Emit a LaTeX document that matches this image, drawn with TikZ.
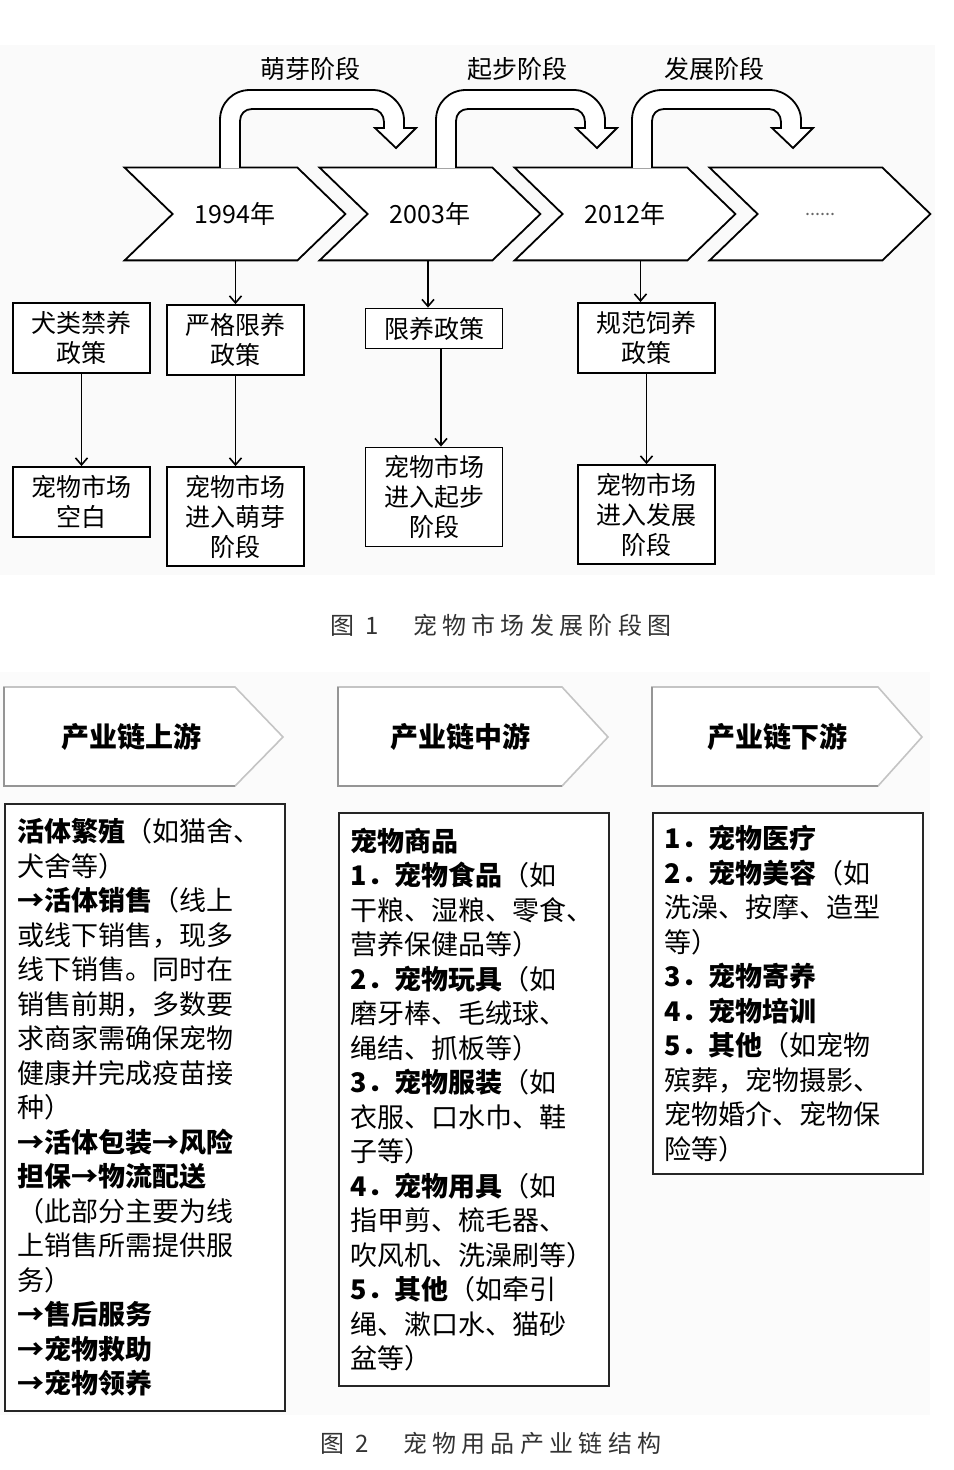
\documentclass[tikz,border=0pt]{standalone}
\usepackage{fontspec}
\newfontfamily\cjk{Noto Sans CJK SC}
\newfontfamily\capcjk[LetterSpace=22]{Noto Sans CJK SC}
\definecolor{pentline}{HTML}{C4C4C4}
\definecolor{pentdark}{HTML}{959595}
\definecolor{capgray}{HTML}{333333}
\usetikzlibrary{positioning, arrows.meta, backgrounds}

\begin{document}
\begin{tikzpicture}[x=0.5pt, y=-0.5pt,
  chevtxt/.style={font=\cjk\fontsize{12.5pt}{14pt}\selectfont,
              minimum width=110pt, minimum height=46pt, inner sep=0pt},
  chevshape/.style={draw, line width=0.9pt, fill=white, line join=miter},
  uturn/.style={draw, line width=0.9pt, fill=white},
  stagelbl/.style={font=\cjk\fontsize{12.5pt}{14pt}\selectfont},
  polbox/.style={draw, line width=0.9pt, fill=white, minimum width=68.5pt,
              align=center, inner sep=0pt, font=\cjk\fontsize{12.5pt}{15pt}\selectfont},
  link/.style={line width=0.8pt, -{Straight Barb[length=3.5pt, width=6pt]}},
  headtxt/.style={font=\cjk\bfseries\fontsize{14pt}{16pt}\selectfont},
  listbox/.style={draw=black!85, line width=0.9pt, fill=white, anchor=north west,
              align=left, inner ysep=0pt,
              font=\cjk\fontsize{13.5pt}{17.25pt}\selectfont},
  capt/.style={font=\capcjk\fontsize{12pt}{14pt}\selectfont, text=capgray},
]
\useasboundingbox (0,0) rectangle (953,1470);

% stages along the time line
\node[chevtxt] (c1) at (235,214) {1994年};
\node[chevtxt] (c2) at (430,214) {2003年};
\node[chevtxt] (c3) at (625,214) {2012年};
\node[chevtxt, font=\cjk\fontsize{9pt}{10pt}\selectfont, text=black!60] (c4) at (820,214) {......};
\begin{scope}[on background layer]
\fill[black!2] (0,45) rectangle (935,575);
\fill[black!1.5] (0,672) rectangle (930,1415);
\foreach \c in {c1,c2,c3,c4}
  \draw[chevshape] (\c.north west) -- ([xshift=-24pt]\c.north east) -- (\c.east)
    -- ([xshift=-24pt]\c.south east) -- (\c.south west) -- ([xshift=24pt]\c.west) -- cycle;
\end{scope}

% turning arrows
\foreach \l/\t in {220/396, 436/597, 632/793}
  \draw[uturn] (\l,168) -- (\l,120) .. controls (\l,103) and (\l+13,90) .. (\l+30,90)
    -- (\t-22,90) .. controls (\t-9,90) and (\t+8,103) .. (\t+8,120)
    -- (\t+8,128) -- (\t+20,128) -- (\t,148) -- (\t-21,128) -- (\t-12,128)
    -- (\t-12,122) .. controls (\t-12,115) and (\t-17,109) .. (\t-24,109)
    -- (\l+32,109) .. controls (\l+25,109) and (\l+20,114) .. (\l+20,121)
    -- (\l+20,168);
\node[stagelbl] (s1) at (310,69) {萌芽阶段};
\node[stagelbl] (s2) at (517,69) {起步阶段};
\node[stagelbl] (s3) at (714,69) {发展阶段};

% policies and market
\node[polbox, minimum height=35pt] (bA) at (81.5,338) {犬类禁养\\政策};
\node[polbox, minimum height=35pt] (bB) at (235.5,340) {严格限养\\政策};
\node[polbox, minimum height=20pt] (bC) at (434,328.5) {限养政策};
\node[polbox, minimum height=35pt] (bD) at (646.5,338) {规范饲养\\政策};
\node[polbox, minimum height=35pt] (bE) at (81.5,502) {宠物市场\\空白};
\node[polbox, minimum height=49.5pt] (bF) at (235.5,516.5) {宠物市场\\进入萌芽\\阶段};
\node[polbox, minimum height=49.5pt] (bG) at (434,497) {宠物市场\\进入起步\\阶段};
\node[polbox, minimum height=49.5pt] (bH) at (646.5,514.5) {宠物市场\\进入发展\\阶段};

\draw[link] (bB.north |- c1.south) -- (bB.north);
\draw[link] ([xshift=-3pt]bC.north |- c2.south) -- ([xshift=-3pt]bC.north);
\draw[link] ([xshift=-3pt]bD.north |- c3.south) -- ([xshift=-3pt]bD.north);
\draw[link] (bA) -- (bE);
\draw[link] (bB) -- (bF);
\draw[link] ([xshift=3.5pt]bC.south) -- ([xshift=3.5pt]bG.north);
\draw[link] (bD) -- (bH);

\node[capt] (cap1) at (501,625) {图 1　宠物市场发展阶段图};

% industry chain
\foreach \a/\b/\c in {4/235/283, 338/562/608, 652/878/922} {
  \draw[pentline, line width=0.8pt, fill=white] (\a,687) -- (\b,687) -- (\c,737)
    -- (\b,786) -- (\a,786) -- cycle;
  \draw[pentdark, line width=0.8pt] (\a,687) -- (\a,786) -- (\b,786);
}
\node[headtxt] (h1) at (131,737) {产业链上游};
\node[headtxt] (h2) at (460,737) {产业链中游};
\node[headtxt] (h3) at (777,737) {产业链下游};

\node[listbox, minimum width=140pt, minimum height=303.5pt, text width=127pt,
  inner xsep=6.5pt] (up) at (4,803) {%
\textbf{活体繁殖}（如猫舍、\\
犬舍等）\\
\textbf{→活体销售}（线上\\
或线下销售，现多\\
线下销售。同时在\\
销售前期，多数要\\
求商家需确保宠物\\
健康并完成疫苗接\\
种）\\
\textbf{→活体包装→风险}\\
\textbf{担保→物流配送}\\
（此部分主要为线\\
上销售所需提供服\\
务）\\
\textbf{→售后服务}\\
\textbf{→宠物救助}\\
\textbf{→宠物领养}};

\node[listbox, minimum width=135pt, minimum height=286.5pt, text width=123pt,
  inner xsep=6pt] (mid) at (338,812) {%
\textbf{宠物商品}\\
\textbf{1．宠物食品}（如\\
干粮、湿粮、零食、\\
营养保健品等）\\
\textbf{2．宠物玩具}（如\\
磨牙棒、毛绒球、\\
绳结、抓板等）\\
\textbf{3．宠物服装}（如\\
衣服、口水巾、鞋\\
子等）\\
\textbf{4．宠物用具}（如\\
指甲剪、梳毛器、\\
吹风机、洗澡刷等）\\
\textbf{5．其他}（如牵引\\
绳、漱口水、猫砂\\
盆等）};

\node[listbox, minimum width=135pt, minimum height=180.5pt, text width=123pt,
  inner xsep=6pt] (down) at (652,812) {%
\textbf{1．宠物医疗}\\
\textbf{2．宠物美容}（如\\
洗澡、按摩、造型\\
等）\\
\textbf{3．宠物寄养}\\
\textbf{4．宠物培训}\\
\textbf{5．其他}（如宠物\\
殡葬，宠物摄影、\\
宠物婚介、宠物保\\
险等）};

\node[capt] (cap2) at (491,1443) {图 2　宠物用品产业链结构};
\end{tikzpicture}
\end{document}
